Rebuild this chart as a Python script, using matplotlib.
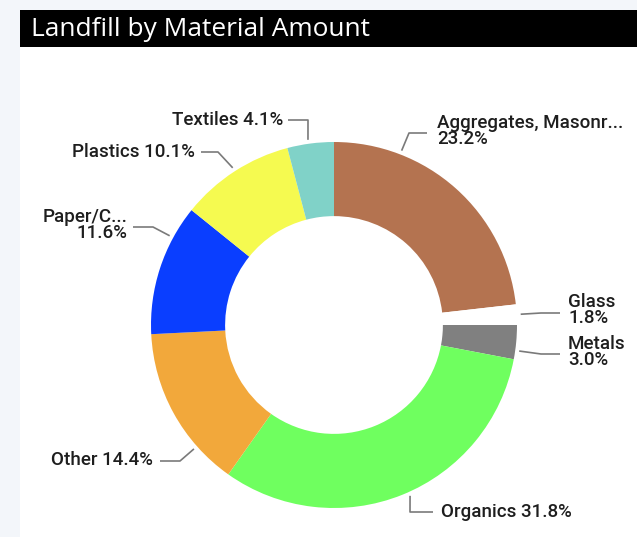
import numpy as np
import matplotlib
matplotlib.use("Agg")
import matplotlib.pyplot as plt
from matplotlib.patches import Rectangle

W, H = 637, 537

categories = ["Aggregates, Masonr...", "Glass", "Metals", "Organics", "Other",
              "Paper/C...", "Plastics", "Textiles"]
values = [23.2, 1.8, 3.0, 31.8, 14.4, 11.6, 10.1, 4.1]
colors = ["#B47350", "#FFFFFF", "#808080", "#6FFF5F", "#F2A83B",
          "#0A3EFF", "#F5FA50", "#80D2C8"]
title = "Landfill by Material Amount"

# layout (pixel coordinates, y measured from top)
center = (334, 325)
r_out = 183
ring_w = 0.405
label_layout = {
    # name: (text x, text y, ha, two_line, elbow (x,y), line start (x,y), anchor angle deg)
    "Aggregates, Masonr...": (437, 131, "left", True, (409, 133), (427, 133), 68.8),
    "Glass": (568, 310, "left", True, (541, 313), (560, 313), 3.3),
    "Metals": (568, 352, "left", True, (541, 354), (560, 354), -8.0),
    "Organics": (441, 512, "left", False, (410, 512), (433, 512), -66.0),
    "Other": (153, 460, "right", False, (180, 461), (160, 461), 221.5),
    "Paper/C...": (127, 225, "right", True, (153, 227), (133, 227), 151.5),
    "Plastics": (195, 152, "right", False, (218, 152), (201, 152), 122.8),
    "Textiles": (283, 120, "right", False, (308, 120), (288, 120), 98.0),
}

def P(x, y):
    return (x, H - y)

fig = plt.figure(figsize=(W / 100, H / 100), dpi=100, facecolor="#F3F6FA")
ax = fig.add_axes([0, 0, 1, 1])
ax.set_facecolor("#F3F6FA")

# panel + title bar
ax.add_patch(Rectangle(P(20, 537), W - 20, 527, facecolor="white", edgecolor="none", zorder=0))
ax.add_patch(Rectangle(P(20, 47), W - 20, 37, facecolor="black", edgecolor="none", zorder=1))
ax.text(31, H - 29, title, color="white", fontsize=18.9, family="Open Sans",
        fontweight="normal", va="center", ha="left", zorder=2)

cx, cy = P(*center)
wedges, _ = ax.pie(values, colors=colors, startangle=90, counterclock=False,
                   radius=r_out, center=(cx, cy),
                   wedgeprops=dict(width=r_out * ring_w, edgecolor="none", linewidth=0),
                   frame=True)

font = dict(family="Roboto", fontsize=13.5, color="#1E1E1E", fontweight="medium")
for name, val in zip(categories, values):
    tx, ty, ha, two, elbow, start, ang = label_layout[name]
    if two:
        txt = f"{name}\n{val:.1f}%"
    else:
        txt = f"{name} {val:.1f}%"
    ax.text(*P(tx, ty), txt, ha=ha, va="center", multialignment=ha,
            linespacing=0.9, zorder=3, **font)
    a = np.deg2rad(ang)
    axx = cx + (r_out + 4) * np.cos(a)
    ayy = cy + (r_out + 4) * np.sin(a)
    ex, ey = P(*elbow)
    sx, sy = P(*start)
    ax.plot([sx, ex, axx], [sy, ey, ayy], color="#7A7A7A", lw=1.2,
            solid_capstyle="butt", zorder=3)

ax.set_xlim(0, W)
ax.set_ylim(0, H)
ax.set_aspect("equal")
ax.axis("off")
fig.savefig("out.png", dpi=100, facecolor=fig.get_facecolor())
